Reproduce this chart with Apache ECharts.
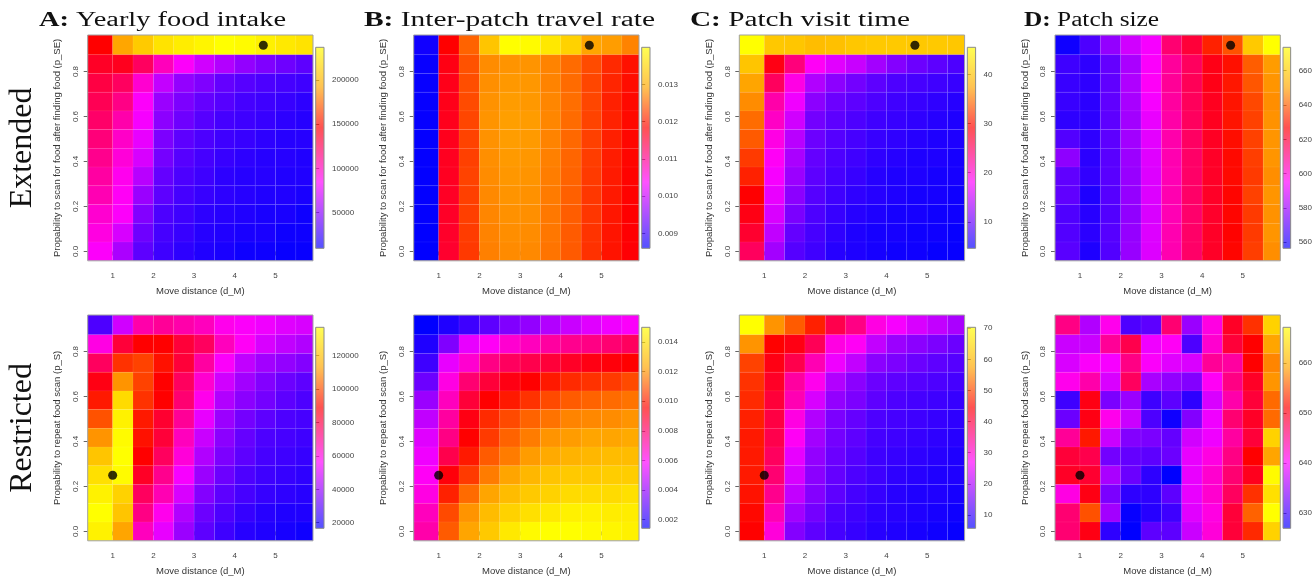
<!DOCTYPE html>
<html><head><meta charset="utf-8">
<script src="https://cdn.jsdelivr.net/npm/echarts@6/dist/echarts.min.js"></script>
<style>html,body{margin:0;padding:0;background:#fff}#c{width:1315px;height:582px}</style>
</head><body><div id="c"></div>
<script>
// ---------------- DATA ----------------
// cell edges along the move distance axis (11 columns) and the probability axis (12 rows)
const moveDistanceEdges = [0.387, 1, 1.5, 2, 2.5, 3, 3.5, 4, 4.5, 5, 5.5, 5.92];
const scanProbEdges = [-0.0417, 0.0417, 0.125, 0.2083, 0.2917, 0.375, 0.4583, 0.5417, 0.625, 0.7083, 0.7917, 0.875, 0.9625];
const moveDistanceTicks = [1, 2, 3, 4, 5];
const scanProbTicks = [0, 0.2, 0.4, 0.6, 0.8];
const optimumExtended = [4.7, 0.917];
const optimumRestricted = [1.0, 0.25];

// rows listed from top (p = 0.917) to bottom (p = 0)
const foodIntakeExtended = [
 [146000,192000,210000,223000,228000,232000,237000,235000,230000,226000,223000],
 [137000,139000,123000,101000,85000,71000,62000,53000,47000,42000,37000],
 [130000,123000,96000,67000,53000,47000,39000,35000,32000,30000,28000],
 [126000,114000,85000,55000,46000,39000,35000,30000,28000,26000,23000],
 [121000,105000,82000,51000,42000,35000,30000,28000,26000,23000,21000],
 [117000,98000,78000,46000,37000,32000,28000,26000,23000,21000,21000],
 [112000,94000,73000,44000,35000,30000,26000,23000,21000,21000,19000],
 [107000,89000,64000,39000,32000,28000,23000,21000,21000,19000,19000],
 [103000,87000,55000,37000,30000,26000,23000,21000,19000,19000,17000],
 [96000,85000,48000,32000,28000,23000,21000,19000,17000,17000,14000],
 [92000,73000,42000,30000,26000,21000,19000,17000,17000,14000,14000],
 [85000,60000,37000,28000,23000,19000,17000,14000,14000,12000,12000]
];
const travelRateExtended = [
 [0.00872,0.01184,0.01249,0.01330,0.01400,0.01395,0.01373,0.01346,0.01292,0.01287,0.01270],
 [0.00866,0.01173,0.01238,0.01276,0.01281,0.01281,0.01270,0.01254,0.01233,0.01211,0.01195],
 [0.00865,0.01170,0.01235,0.01278,0.01284,0.01283,0.01270,0.01254,0.01230,0.01208,0.01192],
 [0.00864,0.01170,0.01233,0.01280,0.01286,0.01284,0.01272,0.01256,0.01230,0.01205,0.01190],
 [0.00864,0.01168,0.01230,0.01281,0.01288,0.01286,0.01272,0.01254,0.01228,0.01206,0.01190],
 [0.00863,0.01168,0.01228,0.01280,0.01287,0.01285,0.01270,0.01252,0.01226,0.01204,0.01188],
 [0.00863,0.01166,0.01226,0.01278,0.01285,0.01283,0.01268,0.01250,0.01224,0.01202,0.01187],
 [0.00862,0.01165,0.01228,0.01276,0.01283,0.01281,0.01266,0.01249,0.01222,0.01201,0.01186],
 [0.00862,0.01163,0.01226,0.01274,0.01281,0.01279,0.01265,0.01247,0.01220,0.01200,0.01185],
 [0.00862,0.01162,0.01225,0.01272,0.01279,0.01278,0.01263,0.01245,0.01219,0.01198,0.01184],
 [0.00861,0.01160,0.01223,0.01270,0.01277,0.01276,0.01262,0.01244,0.01217,0.01197,0.01183],
 [0.00861,0.01158,0.01221,0.01268,0.01275,0.01274,0.01260,0.01243,0.01216,0.01196,0.01182]
];
const visitTimeExtended = [
 [45.5,40.5,40.3,39.5,39.8,40.4,40.6,40.6,40.5,40.6,40.4],
 [40.2,28.3,23.8,18.5,16.5,15.2,13.2,11.6,10.3,9.5,8.7],
 [37.3,25.1,19.3,14.0,12.0,10.7,9.5,8.7,8.3,7.9,7.5],
 [36.1,21.8,17.3,12.0,10.3,9.5,8.7,7.9,7.5,7.1,6.6],
 [34.5,20.6,15.6,10.7,9.5,8.7,7.9,7.5,7.1,6.6,6.2],
 [33.6,19.3,14.4,10.3,9.1,8.3,7.5,7.1,6.6,6.2,6.2],
 [32.0,18.5,13.6,9.9,8.7,7.9,7.1,6.6,6.2,6.2,5.8],
 [30.8,17.7,12.8,9.5,8.3,7.5,6.6,6.2,6.2,5.8,5.8],
 [29.1,16.9,12.0,9.1,7.9,7.1,6.6,6.2,5.8,5.8,5.4],
 [28.3,16.1,11.1,8.7,7.5,6.6,6.2,5.8,5.8,5.4,5.4],
 [27.1,14.8,9.9,8.3,7.1,6.2,5.8,5.8,5.4,5.4,5.0],
 [25.1,13.2,9.1,7.9,6.6,6.2,5.8,5.4,5.4,5.0,5.0]
];
const patchSizeExtended = [
 [558.8,568.2,578.7,588.1,594.0,612.7,619.7,631.4,638.5,659.5,673.6],
 [565.9,563.5,571.7,582.3,595.1,607.5,615.0,624.0,629.0,640.0,649.0],
 [565.0,563.5,571.0,583.0,596.0,608.0,616.0,624.0,630.0,639.0,648.0],
 [565.0,563.0,571.0,582.0,594.0,607.0,615.5,623.0,629.5,637.0,647.0],
 [563.5,563.0,570.5,581.0,592.0,606.0,615.0,623.0,629.5,636.0,647.5],
 [569.0,563.5,570.6,581.0,591.0,605.5,614.5,622.5,628.5,636.0,648.0],
 [578.0,563.0,570.0,580.0,590.5,605.0,614.0,622.0,628.0,635.5,648.0],
 [571.0,564.0,570.0,579.5,590.0,604.5,614.0,622.0,628.0,635.0,647.0],
 [571.0,561.0,569.5,579.0,590.0,605.0,614.0,622.0,627.5,636.0,648.0],
 [568.5,562.5,569.0,578.5,589.5,604.5,613.5,621.5,627.5,635.0,647.5],
 [569.0,563.0,569.5,579.0,590.0,605.0,614.0,622.0,627.0,635.0,648.0],
 [570.0,561.0,569.0,579.5,590.0,605.0,614.0,622.0,627.5,635.5,647.0]
];
const foodIntakeRestricted = [
 [28700,49100,67200,69600,67200,64800,58800,56400,54000,51500,50300],
 [60000,81600,88900,88900,81600,76800,64800,57600,50300,46700,44300],
 [76800,96100,98500,91300,81600,68400,56400,46700,41900,39500,37100],
 [86500,110500,98500,88900,76800,62400,49100,41900,37100,33500,31100],
 [92500,127400,96100,88900,74400,58800,44300,38300,34700,31100,28700],
 [100900,133400,92500,82800,69600,52800,40700,34700,31100,28700,27500],
 [110500,135800,91300,81600,64800,48000,38300,32300,28700,27500,26300],
 [121400,137000,88900,76800,61200,44300,35900,31100,27500,26300,25100],
 [128600,135800,84000,70800,55200,40700,33500,28700,26300,25100,23900],
 [133400,125000,76800,66000,50300,37100,31100,27500,25100,23900,22700],
 [137000,121400,72000,58800,44300,33500,28700,25100,22700,21500,21500],
 [133400,113000,64800,52800,40700,31100,26300,22700,21500,20300,19100]
];
const travelRateRestricted = [
 [0.00140,0.00194,0.00249,0.00303,0.00364,0.00398,0.00453,0.00494,0.00534,0.00562,0.00589],
 [0.00194,0.00364,0.00548,0.00602,0.00657,0.00684,0.00725,0.00752,0.00766,0.00793,0.00820],
 [0.00249,0.00548,0.00657,0.00766,0.00820,0.00847,0.00874,0.00902,0.00929,0.00942,0.00956],
 [0.00330,0.00630,0.00793,0.00874,0.00929,0.00956,0.00997,0.01024,0.01038,0.01051,0.01078],
 [0.00412,0.00684,0.00874,0.00956,0.00997,0.01038,0.01078,0.01106,0.01119,0.01133,0.01146],
 [0.00480,0.00725,0.00929,0.01024,0.01078,0.01119,0.01146,0.01174,0.01180,0.01187,0.01201],
 [0.00534,0.00766,0.00956,0.01051,0.01119,0.01160,0.01201,0.01214,0.01228,0.01228,0.01242],
 [0.00562,0.00847,0.00997,0.01106,0.01160,0.01214,0.01242,0.01269,0.01282,0.01296,0.01296],
 [0.00602,0.00942,0.01051,0.01160,0.01228,0.01282,0.01323,0.01337,0.01337,0.01350,0.01350],
 [0.00630,0.01010,0.01133,0.01228,0.01296,0.01337,0.01364,0.01391,0.01391,0.01391,0.01405],
 [0.00684,0.01078,0.01201,0.01296,0.01364,0.01405,0.01432,0.01459,0.01459,0.01446,0.01446],
 [0.00711,0.01106,0.01228,0.01337,0.01432,0.01486,0.01500,0.01500,0.01486,0.01473,0.01459]
];
const visitTimeRestricted = [
 [70.3,56.1,51.6,47.0,39.3,35.4,29.0,26.4,23.8,21.9,19.9],
 [56.1,44.5,43.2,38.6,29.0,27.7,21.9,18.6,17.3,16.0,14.7],
 [49.6,43.2,39.3,32.2,25.7,21.9,17.3,16.0,14.7,13.5,12.8],
 [48.3,41.9,33.5,28.3,20.6,17.3,14.7,13.5,12.8,12.2,11.5],
 [47.7,40.6,32.2,23.8,18.0,16.0,13.5,12.2,11.5,10.9,10.2],
 [47.0,39.9,29.0,20.6,16.0,14.1,12.2,11.5,10.9,10.2,9.6],
 [46.4,39.3,27.7,19.3,15.4,13.5,11.5,10.9,10.2,9.6,9.0],
 [46.4,38.0,25.1,18.0,14.7,12.8,10.9,10.2,9.6,9.0,8.3],
 [46.4,36.7,23.8,17.3,14.1,12.2,10.9,9.6,9.0,8.3,8.3],
 [45.8,34.8,21.9,16.7,13.5,11.5,10.2,9.0,8.3,8.3,7.6],
 [45.1,32.2,19.3,15.4,12.2,10.9,9.6,9.0,8.3,7.6,7.0],
 [44.5,29.6,16.7,13.5,11.5,10.2,9.0,8.3,7.6,7.0,6.3]
];
const patchSizeRestricted = [
 [645.4,636.1,641.0,630.9,631.7,646.2,634.9,641.4,649.4,653.4,663.1],
 [637.4,637.4,644.6,647.8,639.4,640.6,630.9,642.2,648.6,651.0,659.1],
 [638.2,640.2,639.8,645.4,640.2,638.6,638.2,644.6,644.2,651.0,657.5],
 [641.0,643.8,638.2,647.0,635.7,634.5,633.7,640.6,645.4,649.4,658.3],
 [630.1,650.2,633.3,634.9,630.1,631.7,629.3,638.2,643.8,648.6,656.2],
 [632.5,650.2,641.0,637.4,630.9,627.7,633.7,639.4,646.2,649.4,656.2],
 [644.6,652.2,637.4,633.7,633.3,632.1,637.8,639.4,644.2,648.6,663.1],
 [648.6,647.8,632.9,632.1,631.7,632.5,639.0,641.4,645.4,651.0,659.1],
 [649.4,649.0,635.7,632.5,629.3,626.9,639.0,642.2,646.2,649.8,666.7],
 [641.4,650.2,633.3,629.3,629.3,631.7,639.0,642.2,647.0,653.4,664.3],
 [646.2,655.0,635.3,627.3,628.9,630.1,638.6,641.4,648.6,655.8,667.1],
 [646.2,650.2,629.3,626.9,631.7,631.7,637.4,641.8,648.6,653.0,663.1]
];

// colour-scale ranges and colour-bar ticks
const foodRangeExt = [9700, 237000],   foodTicksExt = [50000, 100000, 150000, 200000];
const travelRangeExt = [0.0086, 0.0140], travelTicksExt = [0.009, 0.010, 0.011, 0.012, 0.013];
const visitRangeExt = [4.6, 45.5],     visitTicksExt = [10, 20, 30, 40];
const sizeRangeExt = [556.5, 673.6],   sizeTicksExt = [560, 580, 600, 620, 640, 660];
const foodRangeRes = [16650, 137000],  foodTicksRes = [20000, 40000, 60000, 80000, 100000, 120000];
const travelRangeRes = [0.0014, 0.0150], travelTicksRes = [0.002, 0.004, 0.006, 0.008, 0.010, 0.012, 0.014];
const visitRangeRes = [5.7, 70.3],     visitTicksRes = [10, 20, 30, 40, 50, 60, 70];
const sizeRangeRes = [626.9, 667.1],   sizeTicksRes = [630, 640, 650, 660];

const panelTitles = ['Yearly food intake', 'Inter-patch travel rate', 'Patch visit time', 'Patch size'];
const panelLetters = ['A', 'B', 'C', 'D'];
const rowLabels = ['Extended', 'Restricted'];
const yNames = ['Propability to scan for food after finding food (p_SE)', 'Propability to repeat food scan (p_S)'];
const xName = 'Move distance (d_M)';

// ---------------- STYLE / LAYOUT ----------------
const SERIF = "'Liberation Serif','DejaVu Serif',serif";
const SANS = "'Liberation Sans',Arial,Helvetica,sans-serif";
const COL_LEFT = [87.7, 413.7, 739.3, 1055];
const ROW_TOP = [35, 315];
const PW = 225.3, PH = 225.8;
const TITLE_X = [39, 364, 690, 1024];
const TITLE_W = [247, 291, 220, 135];
const PALETTE = [[0, [0, 0, 255]], [0.33, [255, 0, 255]], [0.6, [255, 0, 0]], [0.8, [255, 165, 0]], [1, [255, 255, 0]]];

function mix(t) {
  for (let i = 1; i < PALETTE.length; i++) {
    if (t <= PALETTE[i][0] + 1e-9) {
      const [t0, c0] = PALETTE[i - 1], [t1, c1] = PALETTE[i];
      const f = (t - t0) / (t1 - t0);
      return c0.map((v, k) => Math.round(v + (c1[k] - v) * f));
    }
  }
  return PALETTE[PALETTE.length - 1][1];
}
const paletteColors = [];
for (let i = 0; i <= 50; i++) { paletteColors.push('rgb(' + mix(i / 50).join(',') + ')'); }
const cbStops = PALETTE.map(([t, c]) => ({ offset: t, color: 'rgba(' + c.join(',') + ',0.68)' }));

const panels = [
  { d: foodIntakeExtended, r: foodRangeExt, t: foodTicksExt, f: v => String(v) },
  { d: travelRateExtended, r: travelRangeExt, t: travelTicksExt, f: v => v.toFixed(3) },
  { d: visitTimeExtended, r: visitRangeExt, t: visitTicksExt, f: v => String(v) },
  { d: patchSizeExtended, r: sizeRangeExt, t: sizeTicksExt, f: v => String(v) },
  { d: foodIntakeRestricted, r: foodRangeRes, t: foodTicksRes, f: v => String(v) },
  { d: travelRateRestricted, r: travelRangeRes, t: travelTicksRes, f: v => v.toFixed(3) },
  { d: visitTimeRestricted, r: visitRangeRes, t: visitTicksRes, f: v => String(v) },
  { d: patchSizeRestricted, r: sizeRangeRes, t: sizeTicksRes, f: v => String(v) }
];

function cellsOf(rows) {
  const out = [], n = rows.length;
  rows.forEach((row, i) => {
    const r = n - 1 - i;
    row.forEach((v, c) => out.push([moveDistanceEdges[c], moveDistanceEdges[c + 1], scanProbEdges[r], scanProbEdges[r + 1], v]));
  });
  return out;
}

const grid = [], xAxis = [], yAxis = [], series = [], visualMap = [];
panels.forEach((p, i) => {
  const row = i < 4 ? 0 : 1, col = i % 4;
  grid[i] = { left: COL_LEFT[col], top: ROW_TOP[row], width: PW, height: PH, show: true, borderColor: '#a0a0a0', borderWidth: 1, backgroundColor: 'transparent', z: 3 };
  grid[8 + i] = { left: COL_LEFT[col] + 228, top: ROW_TOP[row] + 12.3, width: 8.3, height: 201, show: false };
  xAxis[i] = {
    gridIndex: i, type: 'value', min: moveDistanceEdges[0], max: moveDistanceEdges[moveDistanceEdges.length - 1],
    axisLine: { show: false }, splitLine: { show: false },
    axisTick: { show: true, length: 4, customValues: moveDistanceTicks, lineStyle: { color: '#666', width: 1 } },
    axisLabel: { customValues: moveDistanceTicks, fontSize: 8, color: '#444', margin: 11, fontFamily: SANS },
    name: xName, nameLocation: 'middle', nameGap: 26, nameTextStyle: { fontSize: 9.5, color: '#333', fontFamily: SANS }
  };
  yAxis[i] = {
    gridIndex: i, type: 'value', min: scanProbEdges[0], max: scanProbEdges[scanProbEdges.length - 1],
    axisLine: { show: false }, splitLine: { show: false },
    axisTick: { show: true, length: 4, customValues: scanProbTicks, lineStyle: { color: '#666', width: 1 } },
    axisLabel: { customValues: scanProbTicks, rotate: 90, fontSize: 8, color: '#444', margin: 8, fontFamily: SANS, formatter: v => Number(v).toFixed(1) },
    name: yNames[row], nameLocation: 'middle', nameGap: 25, nameTextStyle: { fontSize: 9.5, color: '#333', fontFamily: SANS }
  };
  xAxis[8 + i] = { gridIndex: 8 + i, type: 'value', min: 0, max: 1, show: false };
  yAxis[8 + i] = {
    gridIndex: 8 + i, type: 'value', min: p.r[0], max: p.r[1], position: 'right',
    axisLine: { show: false }, splitLine: { show: false },
    axisTick: { show: true, length: 3.5, customValues: p.t, lineStyle: { color: '#666', width: 1 } },
    axisLabel: { customValues: p.t, fontSize: 8, color: '#444', margin: 8, fontFamily: SANS, formatter: v => p.f(Number(v)) }
  };
  series.push({
    type: 'custom', xAxisIndex: i, yAxisIndex: i, data: cellsOf(p.d), encode: { x: [0, 1], y: [2, 3] },
    silent: true, clip: true,
    renderItem: (params, api) => {
      const a = api.coord([api.value(0), api.value(3)]);
      const b = api.coord([api.value(1), api.value(2)]);
      return { type: 'rect', shape: { x: a[0], y: a[1], width: b[0] - a[0], height: b[1] - a[1] },
        style: { fill: api.visual('color'), stroke: 'rgba(255,255,255,0.08)', lineWidth: 0.7 } };
    }
  });
  visualMap.push({ type: 'continuous', show: false, seriesIndex: series.length - 1, dimension: 4, min: p.r[0], max: p.r[1], inRange: { color: paletteColors } });
  series.push({
    type: 'scatter', xAxisIndex: i, yAxisIndex: i, data: [row === 0 ? optimumExtended : optimumRestricted],
    symbolSize: 9, itemStyle: { color: '#000' }, z: 6, silent: true
  });
  series.push({
    type: 'custom', xAxisIndex: 8 + i, yAxisIndex: 8 + i, data: [[0, 1, p.r[0], p.r[1]]], encode: { x: [0, 1], y: [2, 3] }, silent: true,
    renderItem: (params, api) => {
      const a = api.coord([api.value(0), api.value(3)]);
      const b = api.coord([api.value(1), api.value(2)]);
      return { type: 'rect', shape: { x: a[0], y: a[1], width: b[0] - a[0], height: b[1] - a[1] },
        style: { fill: new echarts.graphic.LinearGradient(0, 1, 0, 0, cbStops), stroke: '#8a8a8a', lineWidth: 1 } };
    }
  });
});

// titles (stretched to the width they take in the reference)
const ctx = document.createElement('canvas').getContext('2d');
function textW(font, s) { ctx.font = font; return ctx.measureText(s).width; }
const graphic = [];
panelLetters.forEach((L, k) => {
  const w = textW('bold 20px ' + SERIF, L + ':') + textW('20px ' + SERIF, ' ' + panelTitles[k]);
  graphic.push({
    type: 'text', x: TITLE_X[k], y: 21, scaleX: TITLE_W[k] / w, silent: true,
    style: { text: '{b|' + L + ':} ' + panelTitles[k], fontFamily: SERIF, fontSize: 20, fill: '#111', align: 'left', verticalAlign: 'middle',
      rich: { b: { fontFamily: SERIF, fontSize: 20, fontWeight: 'bold', fill: '#111' } } }
  });
});
rowLabels.forEach((t, r) => {
  graphic.push({ type: 'text', x: 23, y: ROW_TOP[r] + PH / 2, rotation: Math.PI / 2, silent: true,
    style: { text: t, fontFamily: SERIF, fontSize: 32, fill: '#111', align: 'center', verticalAlign: 'middle' } });
});

const chart = echarts.init(document.getElementById('c'), null, { renderer: 'canvas' });
chart.setOption({ animation: false, backgroundColor: '#fff', textStyle: { fontFamily: SANS }, grid, xAxis, yAxis, visualMap, series, graphic });
</script></body></html>
